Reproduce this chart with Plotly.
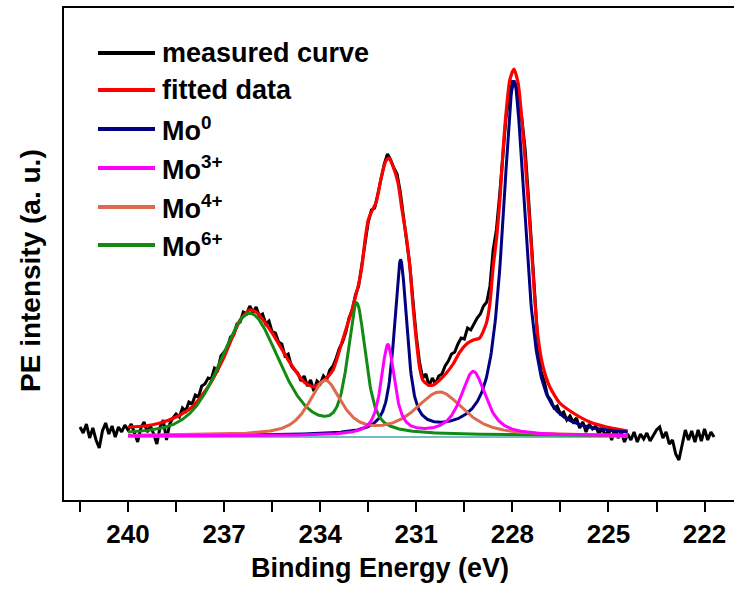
import numpy as np
import plotly.graph_objects as go

# ---------------- data ----------------
# measured spectrum: 0.1 eV steps from 241.5 eV down to 221.7 eV
meas_start, meas_step = 241.5, -0.1
measured = [
    9, 3, 12, -2, 8, -4, -12, 5, 13, 2,
    10, -1, 9, 4, 11, 6, 12, 2, -6, 8,
    14, 4, 10, 2, -8, 9, 16, -4, 12, 18,
    22, 19, 28, 25, 34, 32, 41, 39, 50, 52,
    58, 57, 68, 66, 80, 84, 88, 99, 101, 112,
    114, 124, 122, 130, 124, 129, 120, 122, 112, 115,
    104, 103, 94, 92, 80, 82, 70, 66, 63, 55,
    60, 50, 56, 45, 55, 52, 60, 56, 66, 70,
    78, 88, 94, 104, 118, 126, 141, 150, 172, 194,
    214, 226, 228, 242, 257, 272, 282, 276, 268, 262,
    244, 218, 198, 170, 134, 100, 74, 58, 62, 50,
    58, 52, 60, 62, 70, 75, 82, 84, 92, 98,
    97, 108, 106, 112, 118, 122, 130, 134, 150, 186,
    206, 240, 280, 318, 340, 354, 352, 338, 316, 286,
    240, 190, 134, 92, 64, 54, 40, 36, 28, 30,
    22, 24, 16, 20, 14, 18, 8, 14, 4, 12,
    7, 10, 2, 8, 0, 6, -4, 8, -2, 4,
    -6, 2, -4, 4, -6, 2, -3, 3, -5, 1,
    6, 9, -2, 4, -8, -4, -18, -24, -8, 6,
    -4, 5, -6, 6, -5, 7, -4, 4, -1,
]

# fitted envelope
fit_energy = [240.0, 239.5, 239.0, 238.5, 238.0, 237.5, 237.0, 236.5, 236.2, 236.0,
              235.5, 235.0, 234.5, 234.2, 233.8, 233.6, 233.3, 233.0, 232.8, 232.7,
              232.6, 232.5, 232.4, 232.25, 232.1, 231.95, 231.85, 231.72, 231.57, 231.46,
              231.31, 231.2, 231.1, 231.0, 230.9, 230.8, 230.63, 230.47, 230.27, 230.06,
              229.85, 229.64, 229.43, 229.22, 229.02, 228.81, 228.7, 228.6, 228.49, 228.39,
              228.29, 228.18, 228.08, 227.95, 227.82, 227.71, 227.61, 227.51, 227.4, 227.3,
              227.2, 227.04, 226.83, 226.52, 226.1, 225.58, 225.06, 224.4]
fit_values = [9, 10, 13, 19, 29, 49, 79, 116, 126, 124,
              103, 76, 54, 49, 58, 66, 96, 127, 152, 169,
              196, 216, 224, 234, 258, 275, 278, 269, 253, 229,
              199, 169, 129, 96, 69, 56, 51, 51, 56, 63,
              72, 84, 92, 96, 98, 113, 133, 169, 199, 236,
              286, 329, 356, 367, 353, 319, 279, 236, 186, 136,
              99, 69, 49, 33, 23, 14, 9, 5]

# fitted components (doublet peaks): centre (eV), height, FWHM (eV), Lorentzian fraction
comp_names = ["Mo<sup>0</sup>", "Mo<sup>3+</sup>", "Mo<sup>4+</sup>", "Mo<sup>6+</sup>"]
comp_centres = [[227.95, 231.49], [229.22, 231.89], [230.27, 233.85], [232.86, 236.2]]
comp_heights = [[354, 172], [64, 90], [43, 54], [128, 122]]
comp_fwhm = [[0.84, 0.48], [0.94, 0.50], [1.8, 1.2], [0.66, 2.2]]
comp_eta = [[0.78, 0.78], [0.78, 0.78], [0.7, 0.7], [0.6, 0.4]]
comp_range = [240.0, 224.4]

tick_vals = [240, 237, 234, 231, 228, 225, 222]
tick_text = ["240", "237", "234", "231", "228", "225", "222"]
x_title = "Binding Energy (eV)"
y_title = "PE intensity (a. u.)"

# ---------------- styling ----------------
BLACK, RED = "#000000", "#ff0000"
comp_colors = ["#000080", "#ff00ff", "#dd6a4c", "#138a13"]
FONT = "Liberation Sans, Arial, sans-serif"

W, H = 734, 589
L, R, T, B = 64, 0, 8, 89
pw, ph = W - L - R, H - T - B


def px_x(px):
    return (px - L) / pw


def px_y(py):
    return (H - B - py) / ph


def pvoigt(e, c, h, w, eta):
    u = (e - c) / w
    return h * (eta / (1 + 4 * u * u) + (1 - eta) * np.exp(-4 * np.log(2) * u * u))


meas_x = np.round(meas_start + meas_step * np.arange(len(measured)), 2)
comp_x = np.linspace(comp_range[0], comp_range[1], 781)

fig = go.Figure()
fig.add_trace(go.Scatter(x=meas_x, y=measured, mode="lines",
                         line=dict(color=BLACK, width=3), name="measured curve"))
fig.add_trace(go.Scatter(x=fit_energy, y=fit_values, mode="lines",
                         line=dict(color=RED, width=3.2, shape="spline", smoothing=0.6),
                         name="fitted data"))
fig.add_trace(go.Scatter(x=comp_range, y=[-1, -1], mode="lines",
                         line=dict(color="#40a8a8", width=1.5), hoverinfo="skip",
                         name="background"))
order = [0, 3, 2, 1]
for i in order:
    y = np.zeros_like(comp_x)
    for c, h, w, eta in zip(comp_centres[i], comp_heights[i], comp_fwhm[i], comp_eta[i]):
        y += pvoigt(comp_x, c, h, w, eta)
    fig.add_trace(go.Scatter(x=comp_x, y=y, mode="lines",
                             line=dict(color=comp_colors[i], width=3),
                             name=comp_names[i]))

# manual legend (long line samples like the reference)
legend_labels = ["measured curve", "fitted data"] + comp_names
legend_colors = [BLACK, RED] + comp_colors
row_y = [53, 90, 129, 168, 207, 245]
shapes = []
annotations = []
for lab, col, ry in zip(legend_labels, legend_colors, row_y):
    shapes.append(dict(type="line", xref="paper", yref="paper",
                       x0=px_x(98), x1=px_x(155), y0=px_y(ry), y1=px_y(ry),
                       line=dict(color=col, width=4)))
    annotations.append(dict(xref="paper", yref="paper", x=px_x(160), y=px_y(ry),
                            xanchor="left", yanchor="middle", showarrow=False,
                            text=lab, font=dict(family=FONT, size=27, color=BLACK,
                                                weight="bold")))

# axis titles (placed like the reference)
annotations.append(dict(xref="paper", yref="paper", x=px_x(380), y=px_y(568),
                        xanchor="center", yanchor="middle", showarrow=False,
                        text=x_title, font=dict(family=FONT, size=27, color=BLACK,
                                                weight="bold")))
annotations.append(dict(xref="paper", yref="paper", x=px_x(30), y=px_y(271),
                        xanchor="center", yanchor="middle", showarrow=False,
                        textangle=-90, text=y_title,
                        font=dict(family=FONT, size=28, color=BLACK, weight="bold")))

fig.update_layout(
    width=W, height=H,
    margin=dict(l=L, r=R, t=T, b=B, pad=0),
    paper_bgcolor="white", plot_bgcolor="white",
    showlegend=False,
    shapes=shapes, annotations=annotations,
    font=dict(family=FONT, color=BLACK),
)
fig.update_xaxes(
    range=[242.0, 221.08], autorange=False,
    tickmode="array", tickvals=tick_vals, ticktext=tick_text,
    ticks="outside", ticklen=10, tickwidth=2, tickcolor=BLACK,
    minor=dict(dtick=1.5, tick0=240, ticks="outside", ticklen=10, tickwidth=2,
               tickcolor=BLACK, showgrid=False),
    showline=True, linecolor=BLACK, linewidth=2, mirror=True,
    showgrid=False, zeroline=False,
    tickfont=dict(family=FONT, size=26, color=BLACK, weight="bold"),
)
fig.update_yaxes(
    range=[-64, 428], autorange=False,
    showticklabels=False, ticks="",
    showline=True, linecolor=BLACK, linewidth=2, mirror=False,
    showgrid=False, zeroline=False,
)

fig.write_html("out.html")
